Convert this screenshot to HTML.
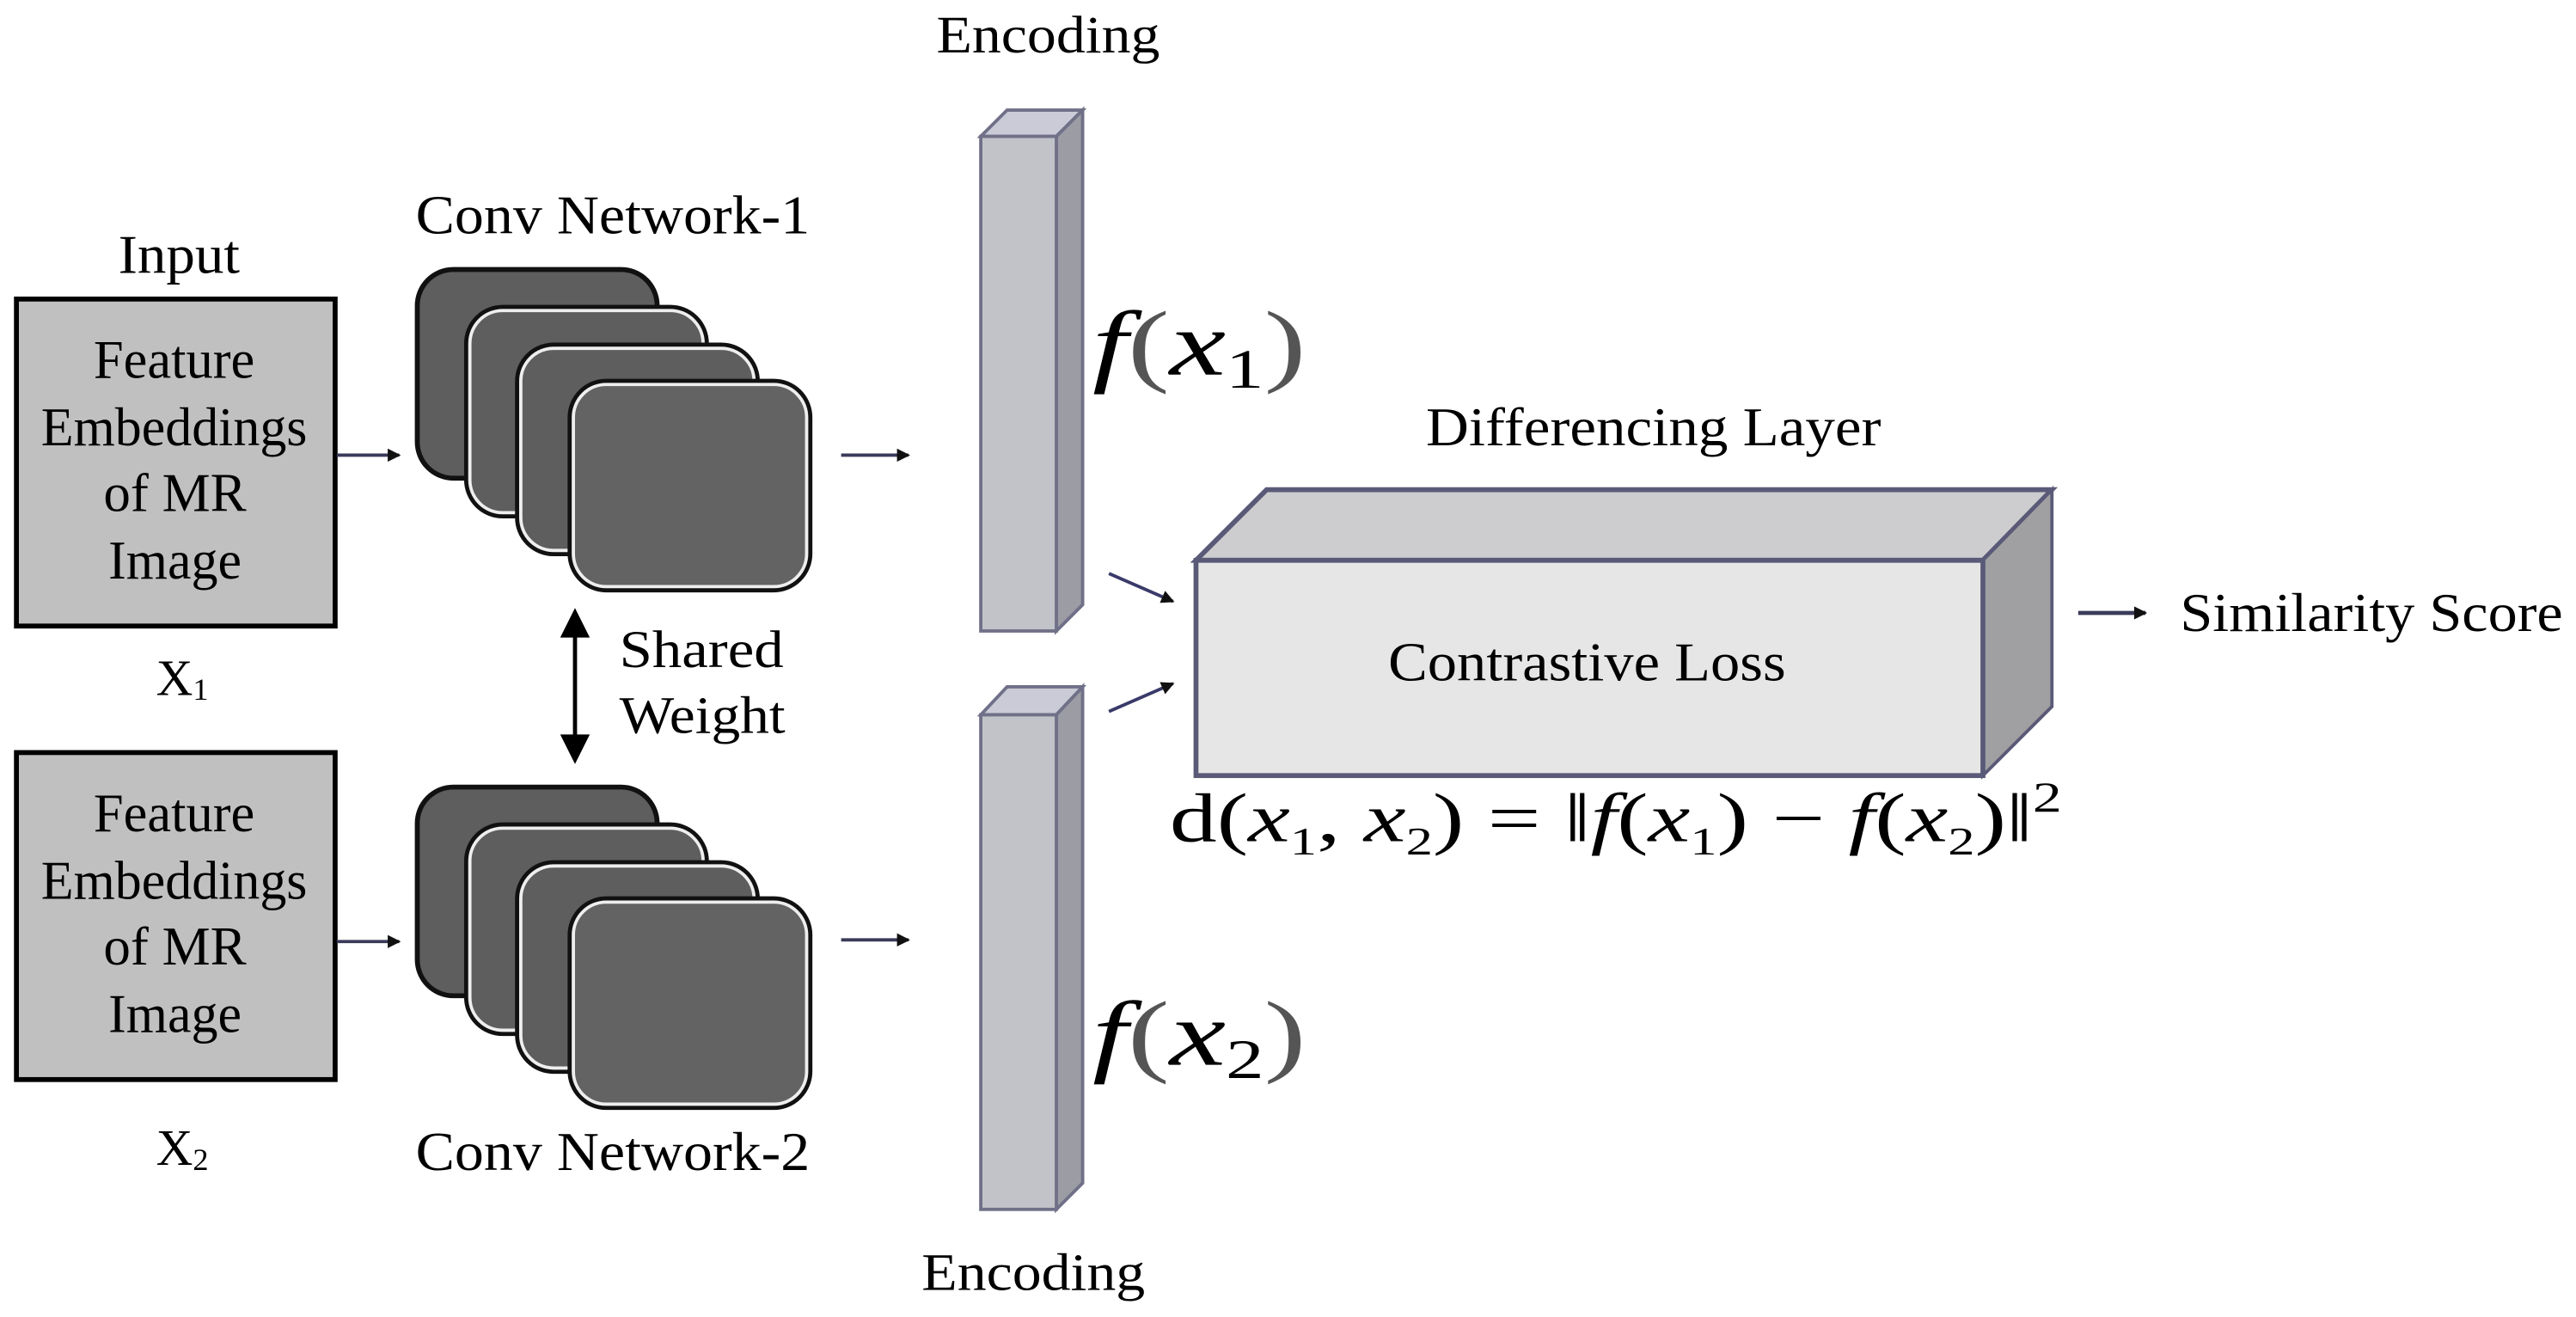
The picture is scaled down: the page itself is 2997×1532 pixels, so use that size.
<!DOCTYPE html>
<html><head><meta charset="utf-8"><style>
html,body{margin:0;padding:0;background:#fff;}
svg{display:block;}
text{font-family:"Liberation Serif",serif;fill:#000;}
</style></head><body>
<svg width="2997" height="1532" viewBox="0 0 1568 801.5" preserveAspectRatio="none" xmlns="http://www.w3.org/2000/svg">
<defs>
<marker id="ah" markerWidth="8" markerHeight="8" refX="7" refY="4" orient="auto" markerUnits="userSpaceOnUse">
<path d="M0,0 L8,4 L0,8 z" fill="#111"/></marker>
<g id="stack">
<rect x="254" y="164" width="146" height="127" rx="22" fill="#5e5e5e" stroke="#111" stroke-width="3"/>
<rect x="284" y="187" width="146" height="127" rx="22" fill="#5e5e5e" stroke="#111" stroke-width="3"/>
<rect x="286" y="189" width="142" height="123" rx="20" fill="none" stroke="#eee" stroke-width="2"/>
<rect x="315" y="210" width="146" height="127" rx="22" fill="#5e5e5e" stroke="#111" stroke-width="3"/>
<rect x="317" y="212" width="142" height="123" rx="20" fill="none" stroke="#eee" stroke-width="2"/>
<rect x="347" y="232" width="146" height="127" rx="22" fill="#636363" stroke="#111" stroke-width="3"/>
<rect x="349" y="234" width="142" height="123" rx="20" fill="none" stroke="#eee" stroke-width="2"/>
</g>
</defs>

<!-- Input boxes -->
<text x="72" y="166" font-size="33" textLength="74" lengthAdjust="spacingAndGlyphs">Input</text>
<rect x="10" y="182" width="194" height="199" fill="#c0c0c0" stroke="#000" stroke-width="3"/>
<g font-size="33">
<text x="57" y="230" textLength="98" lengthAdjust="spacingAndGlyphs">Feature</text>
<text x="25" y="271" textLength="162" lengthAdjust="spacingAndGlyphs">Embeddings</text>
<text x="63" y="311" textLength="87" lengthAdjust="spacingAndGlyphs">of MR</text>
<text x="66" y="352" textLength="81" lengthAdjust="spacingAndGlyphs">Image</text>
</g>
<text x="95" y="423" font-size="31">X<tspan font-size="19" dy="3">1</tspan></text>

<rect x="10" y="458" width="194" height="199" fill="#c0c0c0" stroke="#000" stroke-width="3"/>
<g font-size="33">
<text x="57" y="506" textLength="98" lengthAdjust="spacingAndGlyphs">Feature</text>
<text x="25" y="547" textLength="162" lengthAdjust="spacingAndGlyphs">Embeddings</text>
<text x="63" y="587" textLength="87" lengthAdjust="spacingAndGlyphs">of MR</text>
<text x="66" y="628" textLength="81" lengthAdjust="spacingAndGlyphs">Image</text>
</g>
<text x="95" y="709" font-size="31">X<tspan font-size="19" dy="3">2</tspan></text>

<!-- arrows into conv -->
<line x1="205" y1="277" x2="243" y2="277" stroke="#3a3a5a" stroke-width="2" marker-end="url(#ah)"/>
<line x1="205" y1="573" x2="243" y2="573" stroke="#3a3a5a" stroke-width="2" marker-end="url(#ah)"/>

<!-- conv stacks -->
<text x="253" y="142" font-size="33" textLength="240" lengthAdjust="spacingAndGlyphs">Conv Network-1</text>
<use href="#stack"/>
<use href="#stack" transform="translate(0,315)"/>
<text x="253" y="712" font-size="33" textLength="240" lengthAdjust="spacingAndGlyphs">Conv Network-2</text>

<!-- shared weight -->
<line x1="350" y1="385" x2="350" y2="452" stroke="#000" stroke-width="2.5"/>
<path d="M341,388 L350,370 L359,388 z" fill="#000"/>
<path d="M341,447 L350,465 L359,447 z" fill="#000"/>
<text x="377" y="406" font-size="32" textLength="100" lengthAdjust="spacingAndGlyphs">Shared</text>
<text x="377" y="446" font-size="32" textLength="101" lengthAdjust="spacingAndGlyphs">Weight</text>

<!-- arrows to encoding -->
<line x1="512" y1="277" x2="553" y2="277" stroke="#3a3a5a" stroke-width="2" marker-end="url(#ah)"/>
<line x1="512" y1="572" x2="553" y2="572" stroke="#3a3a5a" stroke-width="2" marker-end="url(#ah)"/>

<!-- Encoding bars -->
<text x="570" y="32" font-size="32" textLength="136" lengthAdjust="spacingAndGlyphs">Encoding</text>
<polygon points="597,83 613,67 659,67 643,83" fill="#cacbd6" stroke="#707088" stroke-width="2"/>
<polygon points="643,83 659,67 659,368 643,384" fill="#9c9ca4" stroke="#707088" stroke-width="2"/>
<rect x="597" y="83" width="46" height="301" fill="#c2c3c8" stroke="#707088" stroke-width="2"/>

<polygon points="597,435 613,418 659,418 643,435" fill="#cacbd6" stroke="#707088" stroke-width="2"/>
<polygon points="643,435 659,418 659,720 643,736" fill="#9c9ca4" stroke="#707088" stroke-width="2"/>
<rect x="597" y="435" width="46" height="301" fill="#c2c3c8" stroke="#707088" stroke-width="2"/>
<text x="561" y="785" font-size="32" textLength="136" lengthAdjust="spacingAndGlyphs">Encoding</text>

<text x="665" y="228" font-size="56" font-style="italic" textLength="130" lengthAdjust="spacingAndGlyphs">f<tspan font-style="normal" fill="#555">(</tspan>x<tspan font-style="normal" font-size="34" dy="8">1</tspan><tspan font-style="normal" fill="#555" dy="-8">)</tspan></text>
<text x="665" y="648" font-size="56" font-style="italic" textLength="130" lengthAdjust="spacingAndGlyphs">f<tspan font-style="normal" fill="#555">(</tspan>x<tspan font-style="normal" font-size="34" dy="8">2</tspan><tspan font-style="normal" fill="#555" dy="-8">)</tspan></text>

<!-- diagonal arrows -->
<line x1="675" y1="349" x2="714" y2="366" stroke="#3a3a6a" stroke-width="2" marker-end="url(#ah)"/>
<line x1="675" y1="433" x2="714" y2="416" stroke="#3a3a6a" stroke-width="2" marker-end="url(#ah)"/>

<!-- Differencing layer box -->
<text x="868" y="271" font-size="33" textLength="277" lengthAdjust="spacingAndGlyphs">Differencing Layer</text>
<polygon points="728,341 771,298 1249,298 1207,341" fill="#cdcdcf" stroke="#5a5a78" stroke-width="3"/>
<polygon points="1207,341 1249,298 1249,430 1207,472" fill="#a0a0a2" stroke="#5a5a78" stroke-width="2"/>
<rect x="728" y="341" width="479" height="131" fill="#e6e6e6" stroke="#5a5a78" stroke-width="3"/>
<text x="845" y="414" font-size="33" textLength="242" lengthAdjust="spacingAndGlyphs">Contrastive Loss</text>
<text x="712" y="512" font-size="42" fill="#3a3a3a" textLength="543" lengthAdjust="spacingAndGlyphs">d(<tspan font-style="italic">x</tspan><tspan font-size="24" dy="8">1</tspan><tspan dy="-8">, </tspan><tspan font-style="italic">x</tspan><tspan font-size="24" dy="8">2</tspan><tspan dy="-8">) = ‖</tspan><tspan font-style="italic">f</tspan>(<tspan font-style="italic">x</tspan><tspan font-size="24" dy="8">1</tspan><tspan dy="-8">) − </tspan><tspan font-style="italic">f</tspan>(<tspan font-style="italic">x</tspan><tspan font-size="24" dy="8">2</tspan><tspan dy="-8">)‖</tspan><tspan font-size="26" dy="-18">2</tspan></text>

<!-- output -->
<line x1="1265" y1="373" x2="1306" y2="373" stroke="#3a3a5a" stroke-width="2.5" marker-end="url(#ah)"/>
<text x="1327" y="384" font-size="33" textLength="233" lengthAdjust="spacingAndGlyphs">Similarity Score</text>
</svg>
</body></html>
